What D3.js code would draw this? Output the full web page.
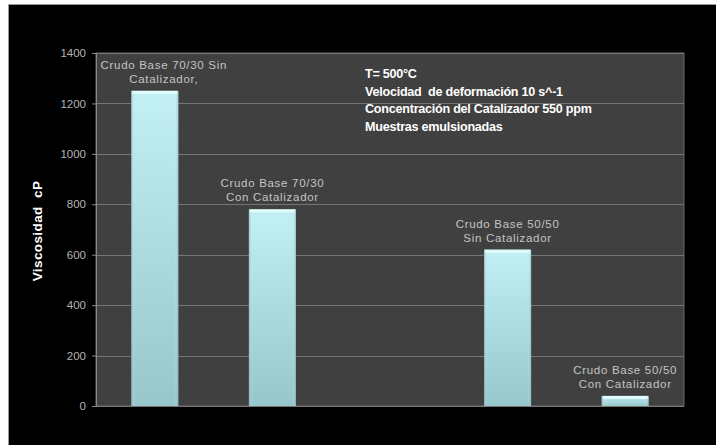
<!DOCTYPE html>
<html>
<head>
<meta charset="utf-8">
<script src="https://cdn.jsdelivr.net/npm/d3@7"></script>
<style>
  html, body { margin: 0; padding: 0; background: #ffffff; }
  svg { display: block; }
  text { white-space: pre; }
</style>
</head>
<body>
<div id="mainDiv"></div>
<script>
'use strict';

var myApp = {};

// chart data
myApp.categories = ["c1", "c2", "c3", "c4", "c5"];
myApp.values = [1250, 780, null, 620, 40];
myApp.barLabels = [
    ["Crudo Base 70/30 Sin", "Catalizador,"],
    ["Crudo Base 70/30", "Con Catalizador"],
    null,
    ["Crudo Base 50/50", "Sin Catalizador"],
    ["Crudo Base 50/50", "Con Catalizador"]
];
myApp.yTicks = [0, 200, 400, 600, 800, 1000, 1200, 1400];
myApp.notes = [
    "T= 500°C",
    "Velocidad  de deformación 10 s^-1",
    "Concentración del Catalizador 550 ppm",
    "Muestras emulsionadas"
];
myApp.yTitle = "Viscosidad  cP";

myApp.run = function ()
{
    var W = 716, H = 445;
    var svg = d3.select("#mainDiv").append("svg")
        .attr("width", W)
        .attr("height", H);

    // frame: white page with black slide
    svg.append("rect").attr("x", 0).attr("y", 0).attr("width", W).attr("height", H).attr("fill", "#ffffff");
    svg.append("rect").attr("x", 8).attr("y", 4).attr("width", W - 8).attr("height", H - 4).attr("fill", "#9a9a9a");
    svg.append("rect").attr("x", 9).attr("y", 5).attr("width", W - 9).attr("height", H - 5).attr("fill", "#000000");

    var left = 96, right = 684, top = 53, bottom = 406;

    var x = d3.scaleBand()
        .domain(myApp.categories)
        .range([left, right])
        .paddingInner(0.6)
        .paddingOuter(0.3);

    var y = d3.scaleLinear()
        .domain([0, 1400])
        .range([bottom, top]);

    var defs = svg.append("defs");
    var grad = defs.append("linearGradient")
        .attr("id", "barGrad")
        .attr("x1", 0).attr("y1", 0).attr("x2", 0).attr("y2", 1);
    grad.append("stop").attr("offset", "0%").attr("stop-color", "#c2f0f4");
    grad.append("stop").attr("offset", "100%").attr("stop-color", "#97c6cb");

    var gradH = defs.append("linearGradient")
        .attr("id", "barEdge")
        .attr("x1", 0).attr("y1", 0).attr("x2", 1).attr("y2", 0);
    gradH.append("stop").attr("offset", "0%").attr("stop-color", "#6f9ea3").attr("stop-opacity", 0.5);
    gradH.append("stop").attr("offset", "8%").attr("stop-color", "#ffffff").attr("stop-opacity", 0);
    gradH.append("stop").attr("offset", "92%").attr("stop-color", "#ffffff").attr("stop-opacity", 0);
    gradH.append("stop").attr("offset", "100%").attr("stop-color", "#6f9ea3").attr("stop-opacity", 0.5);

    // plot area
    svg.append("rect")
        .attr("x", left).attr("y", top)
        .attr("width", right - left).attr("height", bottom - top)
        .attr("fill", "#404040")
        .attr("stroke", "#6a6a6a")
        .attr("stroke-width", 1);

    // gridlines
    svg.append("g")
        .selectAll("line")
        .data(myApp.yTicks)
        .enter()
        .append("line")
            .attr("x1", left).attr("x2", right)
            .attr("y1", function(d) { return Math.round(y(d)) + 0.5; })
            .attr("y2", function(d) { return Math.round(y(d)) + 0.5; })
            .attr("stroke", "#767676")
            .attr("stroke-width", 1.2);

    // y axis
    var yAxis = d3.axisLeft(y)
        .tickValues(myApp.yTicks)
        .tickSize(4)
        .tickPadding(6)
        .tickFormat(d3.format("d"));

    var gy = svg.append("g")
        .attr("transform", "translate(" + left + ",0)")
        .call(yAxis);
    gy.select(".domain").attr("stroke", "#8a8a8a");
    gy.selectAll(".tick line").attr("stroke", "#8a8a8a");
    gy.selectAll(".tick text")
        .attr("fill", "#b4b4b4")
        .attr("font-family", "Liberation Sans, Arial, sans-serif")
        .attr("font-size", "11.5px");

    // bars
    var barData = myApp.categories.map(function(c, i) {
        return { cat: c, value: myApp.values[i], label: myApp.barLabels[i] };
    }).filter(function(d) { return d.value !== null; });

    var bars = svg.append("g").selectAll("g.bar")
        .data(barData)
        .enter()
        .append("g").attr("class", "bar");

    bars.append("rect")
        .attr("x", function(d) { return x(d.cat); })
        .attr("y", function(d) { return y(d.value); })
        .attr("width", x.bandwidth())
        .attr("height", function(d) { return y(0) - y(d.value); })
        .attr("fill", "url(#barGrad)");

    bars.append("rect")
        .attr("x", function(d) { return x(d.cat); })
        .attr("y", function(d) { return y(d.value); })
        .attr("width", x.bandwidth())
        .attr("height", function(d) { return y(0) - y(d.value); })
        .attr("fill", "url(#barEdge)");

    // top bevel highlight
    bars.append("rect")
        .attr("x", function(d) { return x(d.cat) + 1; })
        .attr("y", function(d) { return y(d.value); })
        .attr("width", x.bandwidth() - 2)
        .attr("height", 3)
        .attr("fill", "#eaffff")
        .attr("opacity", 0.8);

    // bar labels
    bars.append("text")
        .attr("text-anchor", "middle")
        .attr("font-family", "Liberation Sans, Arial, sans-serif")
        .attr("font-size", "11.5px")
        .attr("letter-spacing", "0.7px")
        .attr("fill", "#c4c4c4")
        .attr("x", function(d, i) { return x(d.cat) + x.bandwidth() / 2 + (i === 0 ? 9 : 0); })
        .attr("y", function(d) { return y(d.value) - 22; })
        .selectAll("tspan")
        .data(function(d) { return d.label; })
        .enter()
        .append("tspan")
            .attr("x", function() { return d3.select(this.parentNode).attr("x"); })
            .attr("dy", function(d, i) { return i === 0 ? 0 : 14; })
            .text(function(d) { return d; });

    // notes
    svg.append("text")
        .attr("font-family", "Liberation Sans, Arial, sans-serif")
        .attr("font-size", "12.6px")
        .attr("font-weight", "bold")
        .attr("letter-spacing", "-0.25px")
        .attr("fill", "#ffffff")
        .attr("x", 365)
        .attr("y", 78)
        .selectAll("tspan")
        .data(myApp.notes)
        .enter()
        .append("tspan")
            .attr("x", 365)
            .attr("dy", function(d, i) { return i === 0 ? 0 : 17.7; })
            .text(function(d) { return d; });

    // y title
    svg.append("text")
        .attr("transform", "translate(42,231) rotate(-90)")
        .attr("text-anchor", "middle")
        .attr("font-family", "Liberation Sans, Arial, sans-serif")
        .attr("font-size", "13.5px")
        .attr("font-weight", "bold")
        .attr("letter-spacing", "0.4px")
        .attr("fill", "#ffffff")
        .text(myApp.yTitle);
};

window.onload = myApp.run;
</script>
</body>
</html>
